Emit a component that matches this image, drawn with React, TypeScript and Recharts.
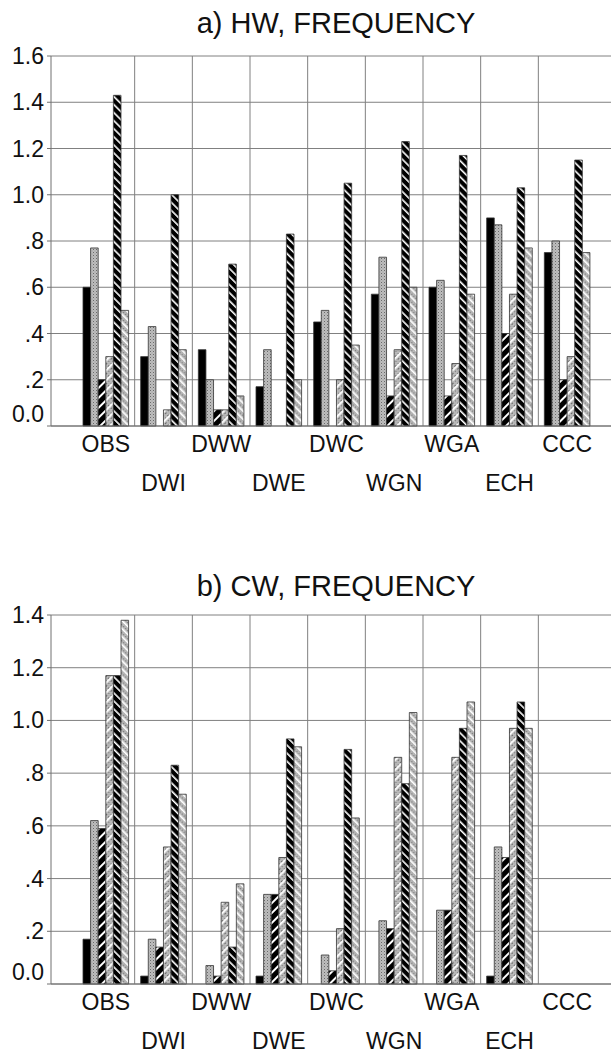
import { BarChart, Bar, XAxis, YAxis, CartesianGrid } from 'recharts';

const categories = ['OBS', 'DWI', 'DWW', 'DWE', 'DWC', 'WGN', 'WGA', 'ECH', 'CCC'];

// a) HW, frequency
const hwSolid = [0.6, 0.3, 0.33, 0.17, 0.45, 0.57, 0.6, 0.9, 0.75];
const hwDotted = [0.77, 0.43, 0.2, 0.33, 0.5, 0.73, 0.63, 0.87, 0.8];
const hwDarkFwd = [0.2, 0, 0.07, 0, 0, 0.13, 0.13, 0.4, 0.2];
const hwLightFwd = [0.3, 0.07, 0.07, 0, 0.2, 0.33, 0.27, 0.57, 0.3];
const hwDarkBack = [1.43, 1.0, 0.7, 0.83, 1.05, 1.23, 1.17, 1.03, 1.15];
const hwLightBack = [0.5, 0.33, 0.13, 0.2, 0.35, 0.6, 0.57, 0.77, 0.75];
const hwTicks = [0, 0.2, 0.4, 0.6, 0.8, 1.0, 1.2, 1.4, 1.6];

// b) CW, frequency
const cwSolid = [0.17, 0.03, 0, 0.03, 0, 0, 0, 0.03, 0];
const cwDotted = [0.62, 0.17, 0.07, 0.34, 0.11, 0.24, 0.28, 0.52, 0];
const cwDarkFwd = [0.59, 0.14, 0.03, 0.34, 0.05, 0.21, 0.28, 0.48, 0];
const cwLightFwd = [1.17, 0.52, 0.31, 0.48, 0.21, 0.86, 0.86, 0.97, 0];
const cwDarkBack = [1.17, 0.83, 0.14, 0.93, 0.89, 0.76, 0.97, 1.07, 0];
const cwLightBack = [1.38, 0.72, 0.38, 0.9, 0.63, 1.03, 1.07, 0.97, 0];
const cwTicks = [0, 0.2, 0.4, 0.6, 0.8, 1.0, 1.2, 1.4];

const FONT = '"Liberation Sans", Arial, Helvetica, sans-serif';
const PAD_L = 26;
const PAD_R = 15;

const buildRows = (cols: number[][]) =>
  categories.map((name, i) => ({
    name,
    s1: cols[0][i],
    s2: cols[1][i],
    s3: cols[2][i],
    s4: cols[3][i],
    s5: cols[4][i],
    s6: cols[5][i],
  }));

const hwRows = buildRows([hwSolid, hwDotted, hwDarkFwd, hwLightFwd, hwDarkBack, hwLightBack]);
const cwRows = buildRows([cwSolid, cwDotted, cwDarkFwd, cwLightFwd, cwDarkBack, cwLightBack]);

// fill of each series, in bar order
const seriesFills = ['solid', 'stip', 'darkFwd', 'lightFwd', 'darkBack', 'lightBack'];

const renderPatterns = (p: string) => (
  <defs>
    <pattern id={`${p}-stip`} width="3" height="3" patternUnits="userSpaceOnUse">
      <rect width="3" height="3" fill="#bdbdbd" />
      <rect x="0" y="0" width="1" height="1" fill="#6a6a6a" />
      <rect x="1.5" y="1.5" width="1" height="1" fill="#9a9a9a" />
    </pattern>
    <pattern id={`${p}-darkFwd`} width="7" height="7" patternUnits="userSpaceOnUse" patternTransform="rotate(45)">
      <rect width="7" height="7" fill="#000" />
      <rect x="0" y="0" width="2" height="7" fill="#fff" />
    </pattern>
    <pattern id={`${p}-lightFwd`} width="7" height="7" patternUnits="userSpaceOnUse" patternTransform="rotate(45)">
      <rect width="7" height="7" fill={`url(#${p}-stip)`} />
      <rect x="0" y="0" width="1.8" height="7" fill="#fff" />
    </pattern>
    <pattern id={`${p}-darkBack`} width="5.7" height="5.7" patternUnits="userSpaceOnUse" patternTransform="rotate(-45)">
      <rect width="5.7" height="5.7" fill="#000" />
      <rect x="0" y="0" width="1.6" height="5.7" fill="#fff" />
    </pattern>
    <pattern id={`${p}-lightBack`} width="5.7" height="5.7" patternUnits="userSpaceOnUse" patternTransform="rotate(-45)">
      <rect width="5.7" height="5.7" fill={`url(#${p}-stip)`} />
      <rect x="0" y="0" width="1.6" height="5.7" fill="#fff" />
    </pattern>
  </defs>
);

const fmtValue = (v: number) => {
  const s = v.toFixed(1);
  return v > 0 && v < 1 ? s.slice(1) : s;
};

const YTick = ({ x, y, payload }: any) => {
  const v = Number(payload.value);
  return (
    <text x={x} y={v === 0 ? y - 12 : y} dy={8} textAnchor="end" fontSize={23} fontFamily={FONT} fill="#111">
      {fmtValue(v)}
    </text>
  );
};

// labels alternate between two rows
const XTick = ({ x, y, payload }: any) => {
  const idx = categories.indexOf(payload.value);
  return (
    <text x={x} y={y + (idx % 2 ? 57 : 18)} dy={8} textAnchor="middle" fontSize={23} fontFamily={FONT} fill="#111">
      {payload.value}
    </text>
  );
};

// vertical grid lines sit between categories, not through them
const boundaryLines = ({ xAxis, offset }: any) => {
  const scale = xAxis?.scale;
  if (scale) {
    const pts = categories.slice(1).map((c) =>
      typeof scale === 'function' ? scale(c) : typeof scale.map === 'function' ? scale.map(c) : NaN
    );
    if (pts.every((v: any) => Number.isFinite(v))) return pts;
  }
  const step = (offset.width - PAD_L - PAD_R) / categories.length;
  return categories.slice(1).map((_, i) => offset.left + PAD_L + step * (i + 1));
};

interface PanelProps {
  id: string;
  title: string;
  rows: any[];
  ticks: number[];
  top: number;
  height: number;
  marginTop: number;
  marginBottom: number;
  titleTop: number;
}

function Panel({ id, title, rows, ticks, top, height, marginTop, marginBottom, titleTop }: PanelProps) {
  return (
    <div style={{ position: 'absolute', left: 0, top, width: 611, height }}>
      <div
        style={{
          position: 'absolute',
          top: titleTop,
          left: 336 - 200,
          width: 400,
          textAlign: 'center',
          fontFamily: FONT,
          fontSize: 29,
          lineHeight: '29px',
          color: '#111',
        }}
      >
        {title}
      </div>
      <BarChart
        width={611}
        height={height}
        data={rows}
        margin={{ top: marginTop, right: 0, left: 0, bottom: marginBottom }}
        barGap={0}
        barSize={7.6}
      >
        {renderPatterns(id)}
        <CartesianGrid stroke="#808080" strokeWidth={1} verticalCoordinatesGenerator={boundaryLines} />
        <XAxis
          dataKey="name"
          interval={0}
          height={70}
          padding={{ left: PAD_L, right: PAD_R }}
          tickLine={false}
          tickSize={0}
          tickMargin={0}
          axisLine={{ stroke: '#707070' }}
          tick={<XTick />}
        />
        <YAxis
          width={51}
          domain={[0, ticks[ticks.length - 1]]}
          ticks={ticks}
          interval={0}
          tickSize={4}
          tickMargin={3}
          tickLine={{ stroke: '#707070' }}
          axisLine={{ stroke: '#707070' }}
          tick={<YTick />}
        />
        {seriesFills.map((f, i) => (
          <Bar
            key={f}
            dataKey={`s${i + 1}`}
            fill={f === 'solid' ? '#000' : `url(#${id}-${f})`}
            stroke="#333"
            strokeWidth={0.8}
            isAnimationActive={false}
          />
        ))}
      </BarChart>
    </div>
  );
}

export default function App() {
  return (
    <div style={{ position: 'absolute', left: 0, top: 0, width: 611, height: 1054, background: '#fff' }}>
      <Panel
        id="hw"
        title="a) HW, FREQUENCY"
        rows={hwRows}
        ticks={hwTicks}
        top={0}
        height={500}
        marginTop={56}
        marginBottom={4}
        titleTop={9}
      />
      <Panel
        id="cw"
        title="b) CW, FREQUENCY"
        rows={cwRows}
        ticks={cwTicks}
        top={540}
        height={514}
        marginTop={75}
        marginBottom={0}
        titleTop={32}
      />
    </div>
  );
}
